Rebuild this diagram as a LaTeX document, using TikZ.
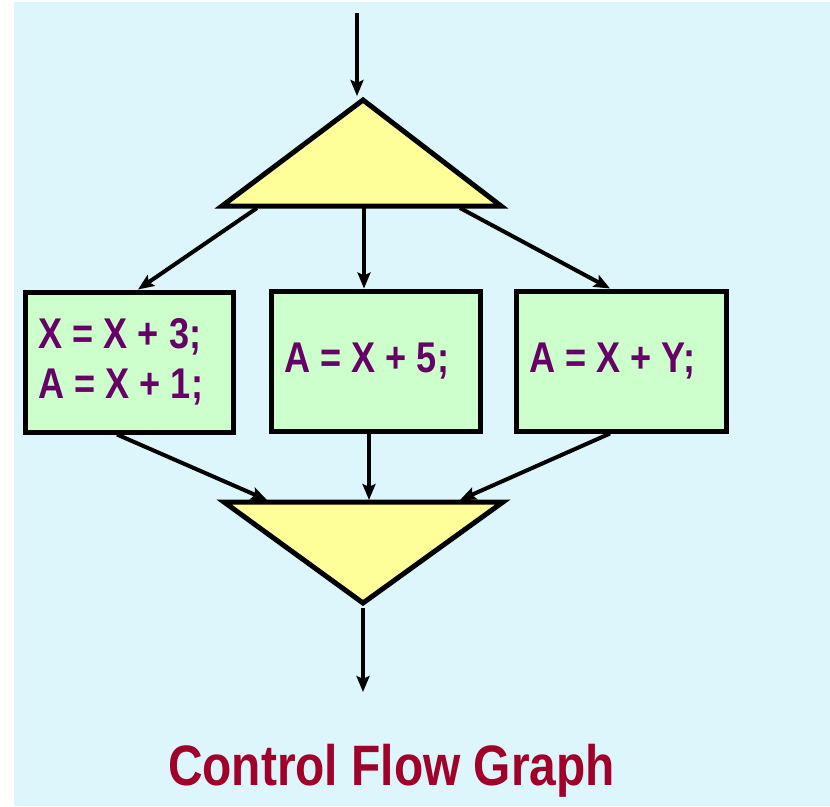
\documentclass[tikz,border=0pt]{standalone}
\usepackage{fontspec}
\newfontfamily\cfgfont{Liberation Sans}[FakeStretch=0.84]
\usetikzlibrary{arrows.meta,calc}
\definecolor{bgcyan}{HTML}{DDF6FB}
\definecolor{blockgreen}{HTML}{CCFFCC}
\definecolor{branchyellow}{HTML}{FFFF99}
\definecolor{codepurple}{HTML}{660066}
\definecolor{titlered}{HTML}{A0002A}
\tikzset{
  block/.style={draw=black, line width=5pt, fill=blockgreen, rectangle,
    text width=181pt, inner xsep=13.5pt, inner ysep=0pt, minimum height=140pt,
    align=flush left, text=codepurple,
    font=\cfgfont\bfseries\fontsize{43}{50}\selectfont},
  branch/.style={draw=black, line width=5pt, fill=branchyellow, line join=miter},
  flow/.style={draw=black, line width=4pt,
    -{Stealth[length=16pt,width=13pt,inset=3pt]}},
  caption/.style={text=titlered, font=\cfgfont\bfseries\fontsize{57}{60}\selectfont,
    inner sep=0pt, anchor=base}
}
\begin{document}
\begin{tikzpicture}[x=1pt,y=-1pt]
  \useasboundingbox (0,0) rectangle (830,806);
  \fill[bgcyan] (14,2) rectangle (830,806);

  % fork: the branch point
  \coordinate (forkTop) at (363,100);
  \coordinate (forkL) at (222,206);
  \coordinate (forkR) at (501,206);
  \filldraw[branch] (forkTop) -- (forkR) -- (forkL) -- cycle;
  \coordinate (entry) at (357,13);
  \coordinate (forkIn) at (357,96);
  \coordinate (outL) at (257,208);
  \coordinate (outM) at (364,208);
  \coordinate (outR) at (460,208);

  % join: the merge point
  \coordinate (joinL) at (224,502);
  \coordinate (joinR) at (503,502);
  \coordinate (joinBot) at (363,603);
  \filldraw[branch] (joinL) -- (joinR) -- (joinBot) -- cycle;
  \coordinate (inL) at (267,500);
  \coordinate (inM) at (369,500);
  \coordinate (inR) at (460,500);
  \coordinate (joinOut) at (363,608);
  \coordinate (exit) at (363,692);

  % basic blocks
  \node[block] (b1) at (129,362) {X = X + 3;\\A = X + 1;};
  \node[block, text width=182pt] (b2) at (375.5,361) {A = X + 5;};
  \node[block, text width=183pt] (b3) at (621,361) {A = X + Y;};

  % edges
  \draw[flow] (entry) -- (forkIn);
  \draw[flow] (outL) -- ([xshift=9pt]b1.north);
  \draw[flow] (outM) -- ([xshift=-11.5pt]b2.north);
  \draw[flow] (outR) -- ([xshift=-11pt]b3.north);
  \draw[flow] ([xshift=-12pt]b1.south) -- (inL);
  \draw[flow] ([xshift=-6.5pt]b2.south) -- (inM);
  \draw[flow] ([xshift=-11pt]b3.south) -- (inR);
  \draw[flow] (joinOut) -- (exit);

  \node[caption] (title) at (391.5,785) {Control Flow Graph};
\end{tikzpicture}
\end{document}
